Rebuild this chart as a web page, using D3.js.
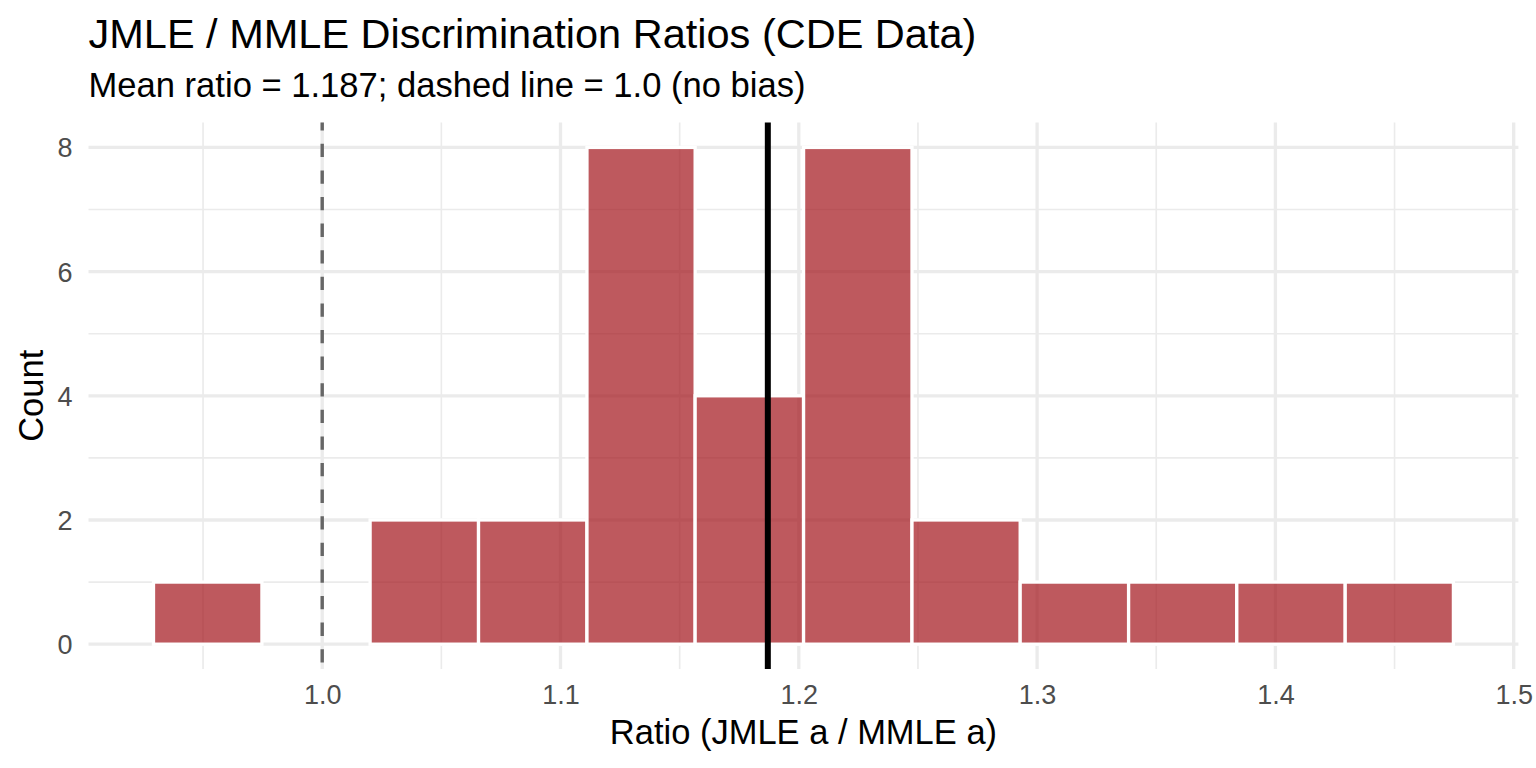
<!DOCTYPE html>
<html>
<head>
<meta charset="utf-8">
<script src="https://cdn.jsdelivr.net/npm/d3@7"></script>
<style>
  html, body { margin: 0; padding: 0; background: #ffffff; }
  svg { display: block; font-family: "Liberation Sans", Arial, Helvetica, sans-serif; }
</style>
</head>
<body>
<svg id="chart" width="1536" height="768"></svg>
<script>
// ---- data ----
const binEdges = [0.9292, 0.9747, 1.0201, 1.0656, 1.1111, 1.1565, 1.2020, 1.2475, 1.2929, 1.3384, 1.3838, 1.4293, 1.4747];
const counts   = [1, 0, 2, 2, 8, 4, 8, 2, 1, 1, 1, 1];
const meanRatio = 1.187;
const refRatio = 1.0;
const xMajorTicks = [1.0, 1.1, 1.2, 1.3, 1.4, 1.5];
const xMinorTicks = [0.95, 1.05, 1.15, 1.25, 1.35, 1.45];
const yMajorTicks = [0, 2, 4, 6, 8];
const yMinorTicks = [1, 3, 5, 7];
const titleText = "JMLE / MMLE Discrimination Ratios (CDE Data)";
const subtitleText = "Mean ratio = 1.187; dashed line = 1.0 (no bias)";
const xTitle = "Ratio (JMLE a / MMLE a)";
const yTitle = "Count";

// ---- layout ----
const panel = { left: 88.5, right: 1518.4, top: 122.6, bottom: 669 };
const svg = d3.select("#chart");

const lo = binEdges[0], hi = binEdges[binEdges.length - 1];
const pad = (hi - lo) * 0.05;
const x = d3.scaleLinear().domain([lo - pad, hi + pad]).range([panel.left, panel.right]);
const yMax = d3.max(counts);
const y = d3.scaleLinear().domain([-yMax * 0.05, yMax * 1.05]).range([panel.bottom, panel.top]);

const bins = counts.map((c, i) => ({ x0: binEdges[i], x1: binEdges[i + 1], count: c }));

const gridColor = "#EBEBEB";
const grid = svg.append("g");
// minor grid
grid.selectAll(".xminor").data(xMinorTicks).join("line")
  .attr("class", "xminor")
  .attr("x1", d => x(d)).attr("x2", d => x(d))
  .attr("y1", panel.top).attr("y2", panel.bottom)
  .attr("stroke", gridColor).attr("stroke-width", 1.65);
grid.selectAll(".yminor").data(yMinorTicks).join("line")
  .attr("class", "yminor")
  .attr("x1", panel.left).attr("x2", panel.right)
  .attr("y1", d => y(d)).attr("y2", d => y(d))
  .attr("stroke", gridColor).attr("stroke-width", 1.65);
// major grid
grid.selectAll(".xmajor").data(xMajorTicks).join("line")
  .attr("class", "xmajor")
  .attr("x1", d => x(d)).attr("x2", d => x(d))
  .attr("y1", panel.top).attr("y2", panel.bottom)
  .attr("stroke", gridColor).attr("stroke-width", 3.3);
grid.selectAll(".ymajor").data(yMajorTicks).join("line")
  .attr("class", "ymajor")
  .attr("x1", panel.left).attr("x2", panel.right)
  .attr("y1", d => y(d)).attr("y2", d => y(d))
  .attr("stroke", gridColor).attr("stroke-width", 3.3);

// bars
svg.append("g").selectAll("rect").data(bins).join("rect")
  .attr("x", d => x(d.x0))
  .attr("width", d => x(d.x1) - x(d.x0))
  .attr("y", d => y(d.count))
  .attr("height", d => y(0) - y(d.count))
  .attr("fill", "#a31219")
  .attr("fill-opacity", 0.7)
  .attr("stroke", "#ffffff")
  .attr("stroke-width", 3.3);

// reference dashed line
svg.append("line")
  .attr("x1", x(refRatio)).attr("x2", x(refRatio))
  .attr("y1", panel.top).attr("y2", panel.bottom)
  .attr("stroke", "#666666").attr("stroke-width", 3.4)
  .attr("stroke-dasharray", "13.3,13.3")
  .attr("stroke-dashoffset", 5.4);

// mean line
svg.append("line")
  .attr("x1", x(meanRatio)).attr("x2", x(meanRatio))
  .attr("y1", panel.top).attr("y2", panel.bottom)
  .attr("stroke", "#000000").attr("stroke-width", 6);

// axes (text only, ggplot minimal style)
const xAxis = d3.axisBottom(x).tickValues(xMajorTicks).tickFormat(d3.format(".1f")).tickSize(0).tickPadding(0);
const gx = svg.append("g").attr("transform", `translate(0,${panel.bottom})`).call(xAxis);
gx.select(".domain").remove();
gx.selectAll("text")
  .attr("y", 35).attr("dy", null)
  .attr("font-size", 27).attr("fill", "#4D4D4D")
  .attr("font-family", "Liberation Sans, Arial, sans-serif");

const yAxis = d3.axisLeft(y).tickValues(yMajorTicks).tickFormat(d3.format("d")).tickSize(0).tickPadding(0);
const gy = svg.append("g").attr("transform", `translate(${panel.left},0)`).call(yAxis);
gy.select(".domain").remove();
gy.selectAll("text")
  .attr("x", -16).attr("dy", "0.35em")
  .attr("font-size", 27).attr("fill", "#4D4D4D")
  .attr("font-family", "Liberation Sans, Arial, sans-serif");

// titles
svg.append("text").attr("x", panel.left).attr("y", 47.5)
  .attr("font-size", 41.5).attr("fill", "#000").text(titleText);
svg.append("text").attr("x", panel.left).attr("y", 96.5)
  .attr("font-size", 34.6).attr("fill", "#000").text(subtitleText);
svg.append("text").attr("x", (panel.left + panel.right) / 2).attr("y", 744)
  .attr("text-anchor", "middle").attr("font-size", 34.5).attr("fill", "#000").text(xTitle);
svg.append("text")
  .attr("transform", `translate(42.5,${(panel.top + panel.bottom) / 2}) rotate(-90)`)
  .attr("text-anchor", "middle").attr("font-size", 34.5).attr("fill", "#000").text(yTitle);
</script>
</body>
</html>
